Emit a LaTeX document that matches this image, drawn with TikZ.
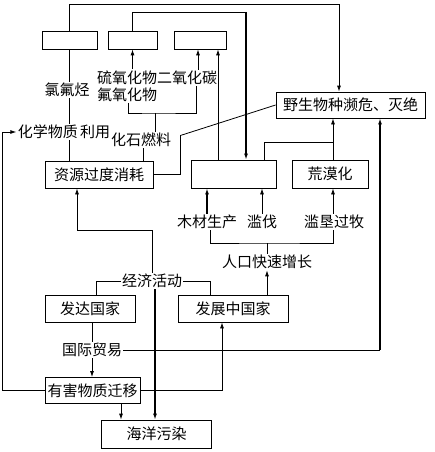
\documentclass[tikz,border=0pt]{standalone}
\usepackage{fontspec}
\setmainfont{Noto Sans CJK SC}
\usetikzlibrary{arrows.meta,calc}

\begin{document}
\begin{tikzpicture}[
    x=1pt, y=-1pt,
    line width=0.8pt,
    box/.style={draw, inner sep=0pt, minimum height=27pt, font=\fontsize{15}{17}\selectfont},
    blank/.style={draw, inner sep=0pt, minimum height=18pt},
    txt/.style={inner sep=1pt, font=\fontsize{15}{17}\selectfont},
    arr/.style={-{Latex[length=6pt,width=4pt]}},
    heavy/.style={line width=2pt}
]
\useasboundingbox (0,0) rectangle (434,452);

% Empty boxes on top
\node[blank,minimum width=55pt] (cfcbox) at (69.5,40.5) {};
\node[blank,minimum width=49pt] (soxbox) at (132.5,40) {};
\node[blank,minimum width=52pt] (co2box) at (200,40) {};

% Wildlife
\node[box,minimum width=149pt,minimum height=26pt] (wild) at (350.5,105) {野生物种濒危、灭绝};

% Middle row
\node[box,minimum width=108pt] (res) at (99,174.5) {资源过度消耗};
\node[box,minimum width=85pt,minimum height=28pt] (forest) at (233.5,174) {};
\node[box,minimum width=76pt,minimum height=28pt] (desert) at (330,174) {荒漠化};

% Countries
\node[box,minimum width=90pt] (dev) at (90,308.5) {发达国家};
\node[box,minimum width=110pt] (devg) at (233,308.5) {发展中国家};

% Bottom
\node[box,minimum width=95pt,minimum height=26pt] (harm) at (92.5,390.5) {有害物质迁移};
\node[box,minimum width=110pt,minimum height=28pt] (ocean) at (156.5,434) {海洋污染};

% Free labels
\node[txt] (cfc) at (67,90) {氯氟烃};
\node[txt,align=left] (sox) at (127,86) {硫氧化物\\氟氧化物};
\node[txt] (co2) at (187,78) {二氧化碳};
\node[txt] (chem) at (64,132) {化学物质\,利用};
\node[txt] (fossil) at (141,140) {化石燃料};
\node[txt] (wood) at (207,222) {木材生产};
\node[txt] (fell) at (262,222) {滥伐};
\node[txt] (graze) at (334,222) {滥垦过牧};
\node[txt] (pop) at (267,262) {人口快速增长};
\node[txt] (econ) at (152,281) {经济活动};
\node[txt] (trade) at (92,350) {国际贸易};

% Junctions
\coordinate (fj) at (155,113);
\coordinate (dj) at (333,142);
\coordinate (pj) at (267,243);
\coordinate (tj) at (380,350);
\coordinate (topj) at (246,12);

% Connections, top
\draw[arr] (cfcbox.north) -- ++(0,-27) -| ([xshift=-11.5]wild.north);
\draw (soxbox.north) |- (topj);
\draw[arr,heavy] (topj) -- ([xshift=12.5]forest.north);
\draw[arr] (soxbox.south |- sox.north) -- (soxbox.south);
\draw[arr] ([xshift=-2]co2box.south |- co2.north) -- ([xshift=-2]co2box.south);
\draw[arr] ([xshift=-15.5]forest.north) -- ([xshift=18]co2box.south);

% Chemicals and fossil fuel
\draw (cfcbox.south) -- (cfc.north -| cfcbox.south);
\draw (cfc.south -| cfcbox.south) -- (chem.north -| cfcbox.south);
\draw (chem.south -| cfcbox.south) -- (res.north -| cfcbox.south);
\draw ([xshift=1]sox.south) |- (fj) -| ([xshift=9]co2.south);
\draw (fj) -- (fj |- fossil.north);
\draw ([xshift=2]fossil.south) -- ([xshift=2]fossil.south |- res.north);
\draw (res.east) -- ++(27,0) -- ++(0,-39) -- (wild.west);

% Forest and desert
\draw[arr] ([xshift=3]desert.north) -- ([xshift=-17.5]wild.south);
\draw ([xshift=30.5]forest.north) |- (dj);
\draw[arr,heavy] (wood.north) -- (wood.north |- forest.south);
\draw[arr] (fell.north) -- (fell.north |- forest.south);
\draw[arr] ([xshift=-1]graze.north) -- ([xshift=-1]graze.north |- desert.south);
\draw ([xshift=3]wood.south) |- (pj) -| ([xshift=-1]graze.south);
\draw (pj) -- (pop.north);
\draw[arr] ([xshift=34]devg.north) -- (pop.south);

% Economy
\draw[arr] (econ.north) -- ++(0,-42) -| ([xshift=-22]res.south);
\draw (econ.west) -| ([xshift=6]dev.north);
\draw (econ.east) -| ([xshift=-23]devg.north);
\draw[arr,heavy] ([xshift=3]econ.south) -- ([xshift=3]econ.south |- ocean.north);

% Trade and harmful substances
\draw (dev.south -| trade.north) -- (trade.north);
\draw[arr] (trade.south) -- (trade.south |- harm.north);
\draw (trade.east) -- (tj);
\draw[arr,heavy] (tj) -- ([xshift=29.5]wild.south);
\draw[arr] (harm.west) -- ++(-42,0) |- (chem.west);
\draw[arr] (harm.east) -| ([xshift=-11]devg.south);
\draw[arr] ([xshift=28.5]harm.south) -- ([xshift=28.5]harm.south |- ocean.north);

\end{tikzpicture}
\end{document}
